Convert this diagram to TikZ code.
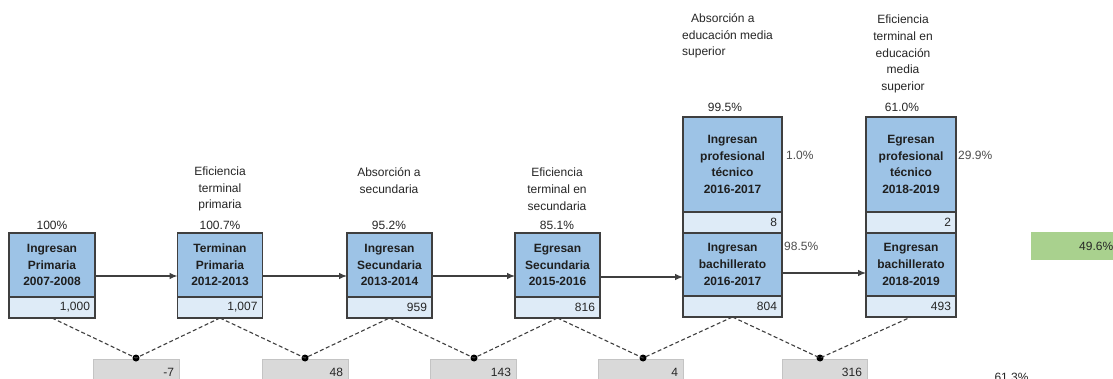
\documentclass[tikz,border=0pt]{standalone}
\usepackage{fontspec}
\setmainfont{Liberation Sans}
\usetikzlibrary{arrows.meta}
\definecolor{boxblue}{HTML}{9DC3E6}
\definecolor{cellblue}{HTML}{DEEBF7}
\definecolor{boxline}{HTML}{3F3F3F}
\definecolor{txtgray}{HTML}{262626}
\definecolor{sidegray}{HTML}{4D4D4D}
\definecolor{graycell}{HTML}{D9D9D9}
\definecolor{grayline}{HTML}{C4C4C4}
\definecolor{greencell}{HTML}{A9D18E}
\tikzset{
  stage/.style 2 args={draw=boxline, fill=boxblue, line width=1.2pt, minimum width=#1, minimum height=#2,
    inner sep=0pt, outer sep=0pt, align=center, text=black!88, font=\fontsize{12}{16.6}\selectfont\bfseries},
  tally/.style={draw=boxline, fill=cellblue, line width=1.2pt, text width=#1, minimum height=21pt,
    inner xsep=5pt, inner ysep=0pt, outer sep=0pt, align=right, text=txtgray, font=\fontsize{12}{14}\selectfont},
  drop/.style={draw=grayline, fill=graycell, line width=0.8pt, text width=#1, inner xsep=5pt, inner ysep=4pt,
    text height=13pt, text depth=15pt, align=right, anchor=north, text=txtgray, font=\fontsize{12}{14}\selectfont},
  pct/.style={inner sep=0pt, text=txtgray, font=\fontsize{12}{14}\selectfont},
  note/.style={inner sep=0pt, align=center, text=txtgray, font=\fontsize{12}{16.8}\selectfont},
  side/.style={inner sep=0pt, anchor=west, text=sidegray, font=\fontsize{12}{14}\selectfont},
  flow/.style={draw=boxline, line width=1.1pt, -{Latex[length=8pt,width=6.5pt]}},
  link/.style={draw=boxline, line width=1.1pt, dash pattern=on 4pt off 2.5pt},
  joint/.style={circle, fill=black, inner sep=0pt, minimum size=7pt}
}
\begin{document}
\begin{tikzpicture}[x=1pt,y=-1pt]
  \useasboundingbox (0,0) rectangle (1113,379);
  \clip (0,0) rectangle (1113,379);
  \fill[white] (0,0) rectangle (1113,379);

  \node[stage={86pt}{64pt}] (b1) at (52,265) {Ingresan\\Primaria\\2007-2008};
  \node[tally=76pt, anchor=north] (c1) at (b1.south) {1,000};
  \node[pct] (p1) at (52,225) {100\%};

  \node[stage={85pt}{64pt}] (b2) at (220,265) {Terminan\\Primaria\\2012-2013};
  \node[tally=75pt, anchor=north] (c2) at (b2.south) {1,007};
  \node[pct] (p2) at (220,225) {100.7\%};
  \node[note] (n2) at (220,189) {Eficiencia\\terminal\\primaria};

  \node[stage={85pt}{64pt}] (b3) at (389.5,265) {Ingresan\\Secundaria\\2013-2014};
  \node[tally=75pt, anchor=north] (c3) at (b3.south) {959};
  \node[pct] (p3) at (389,225) {95.2\%};
  \node[note] (n3) at (389,181) {Absorción a\\secundaria};

  \node[stage={85pt}{64pt}] (b4) at (557.5,265) {Egresan\\Secundaria\\2015-2016};
  \node[tally=75pt, anchor=north] (c4) at (b4.south) {816};
  \node[pct] (p4) at (557,225) {85.1\%};
  \node[note] (n4) at (557,189) {Eficiencia\\terminal en\\secundaria};

  \node[stage={99pt}{95pt}] (b5a) at (732.5,164.5) {Ingresan\\profesional\\técnico\\2016-2017};
  \node[tally=89pt, anchor=north] (c5a) at (b5a.south) {8};
  \node[stage={99pt}{63pt}, anchor=north] (b5b) at (c5a.south) {Ingresan\\bachillerato\\2016-2017};
  \node[tally=89pt, anchor=north] (c5b) at (b5b.south) {804};
  \node[pct] (p5) at (725,107) {99.5\%};
  \node[note, align=left, anchor=west] (n5) at (682,36) {\hspace*{9pt}Absorción a\\educación media\\superior};
  \node[side] (s5a) at (786,155) {1.0\%};
  \node[side] (s5b) at (784,246) {98.5\%};

  \node[stage={90pt}{95pt}] (b6a) at (911,164.5) {Egresan\\profesional\\técnico\\2018-2019};
  \node[tally=80pt, anchor=north] (c6a) at (b6a.south) {2};
  \node[stage={90pt}{63pt}, anchor=north] (b6b) at (c6a.south) {Engresan\\bachillerato\\2018-2019};
  \node[tally=80pt, anchor=north] (c6b) at (b6b.south) {493};
  \node[pct] (p6) at (902,107) {61.0\%};
  \node[note] (n6) at (903,54) {Eficiencia\\terminal en\\educación\\media\\superior};
  \node[side] (s6a) at (958,155) {29.9\%};

  \node[fill=greencell, minimum height=28pt, text width=82pt, inner xsep=0pt, align=right, anchor=west,
    text=txtgray, font=\fontsize{12}{14}\selectfont] (v1) at (1031,246) {49.6\%};
  \node[pct] (v2) at (1011.5,377) {61.3\%};

  \draw[flow] ([yshift=-11pt]b1.east) -- ([yshift=-11pt]b2.west);
  \draw[flow] ([yshift=-11pt]b2.east) -- ([yshift=-11pt]b3.west);
  \draw[flow] ([yshift=-11pt]b3.east) -- ([yshift=-11pt]b4.west);
  \draw[flow] ([yshift=-12pt]b4.east) -- ([yshift=-12pt]b4.east -| b5b.west);
  \draw[flow] ([yshift=-8.5pt]b5b.east) -- ([yshift=-8.5pt]b6b.west);

  \node[drop=76pt] (g1) at (136,359) {-7};
  \node[drop=76pt] (g2) at (305,359) {48};
  \node[drop=76pt] (g3) at (473,359) {143};
  \node[drop=75pt] (g4) at (640.5,359) {4};
  \node[drop=75pt] (g5) at (824.5,359) {316};

  \node[joint] (d1) at (136,358) {};
  \node[joint] (d2) at (305,358) {};
  \node[joint] (d3) at (474,358) {};
  \node[joint] (d4) at (643,358) {};
  \node[joint] (d5) at (820,358) {};

  \draw[link] (c1.south) -- (d1.center) -- (c2.south);
  \draw[link] (c2.south) -- (d2.center) -- (c3.south);
  \draw[link] (c3.south) -- (d3.center) -- (c4.south);
  \draw[link] (c4.south) -- (d4.center) -- (c5b.south);
  \draw[link] (c5b.south) -- (d5.center) -- (c6b.south);
\end{tikzpicture}
\end{document}
